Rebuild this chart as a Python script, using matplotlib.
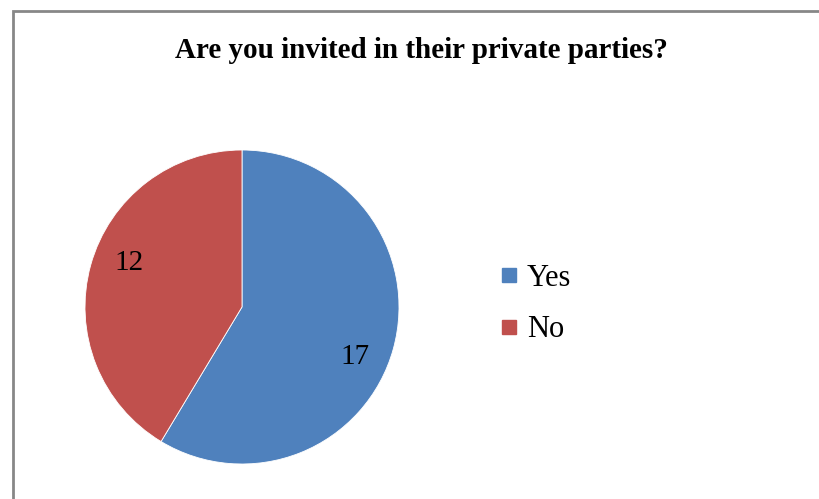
import numpy as np
import matplotlib.pyplot as plt
from matplotlib.patches import Rectangle
from matplotlib.lines import Line2D

categories = ["Yes", "No"]
counts = [17, 12]
colors = ["#4F81BD", "#C0504D"]

W, H = 819, 499
fig = plt.figure(figsize=(W / 100, H / 100), dpi=100)
plt.rcParams['font.family'] = ['Liberation Serif', 'DejaVu Serif']

# chart frame (runs off the right and bottom of the image)
fig.patches.append(Rectangle((12.5 / W, -0.1), 1.2, 1 - 10.5 / H + 0.1,
                             transform=fig.transFigure, fill=False,
                             edgecolor="#878787", linewidth=2))

fig.text(421 / W, 1 - 50 / H, "Are you invited in their private parties?",
         ha="center", va="center", fontsize=21, fontweight="bold")

# pie area: centre (242, 307), radius 157 px
cx, cy, r = 242, 307, 157
ax = fig.add_axes([(cx - r) / W, (H - cy - r) / H, 2 * r / W, 2 * r / H])
total = sum(counts)
wedges, texts, autotexts = ax.pie(
    counts, colors=colors, startangle=90, counterclock=False,
    autopct=lambda p: f"{round(p * total / 100)}", pctdistance=0.78,
    wedgeprops=dict(edgecolor="white", linewidth=0.6),
    textprops=dict(fontsize=21))

# nudge value labels a little clockwise, as the chart tool placed them
for w, t in zip(wedges, autotexts):
    ang = np.deg2rad((w.theta1 + w.theta2) / 2 - 7)
    t.set_position((0.78 * np.cos(ang), 0.78 * np.sin(ang) - 0.02))

ax.set_xlim(-1, 1)
ax.set_ylim(-1, 1)
ax.set_aspect("equal")

handles = [Line2D([], [], marker="s", linestyle="none", markersize=10,
                  markerfacecolor=c, markeredgecolor=c) for c in colors]
fig.legend(handles, categories, loc="center left",
           bbox_to_anchor=(466 / W, 1 - 304 / H), frameon=False,
           fontsize=22, handletextpad=0.1, labelspacing=0.75,
           handlelength=1.0)

fig.savefig("out.png", dpi=100)
